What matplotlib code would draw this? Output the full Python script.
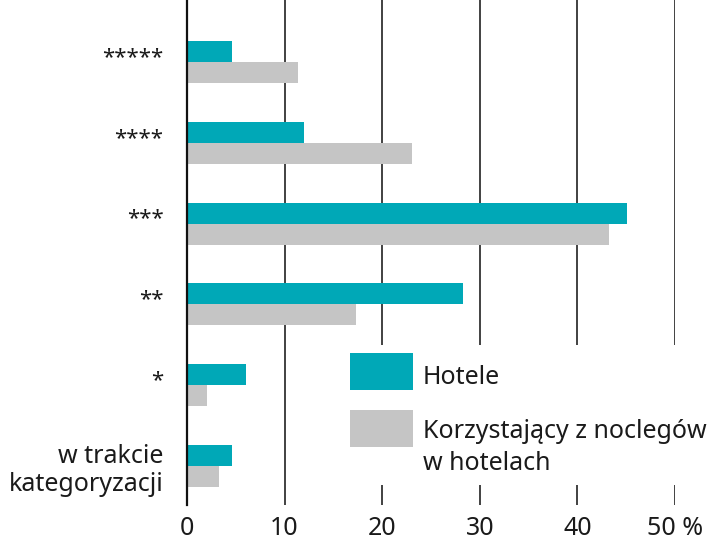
import matplotlib.pyplot as plt
import matplotlib.transforms as mtrans
import numpy as np
from matplotlib.patches import Rectangle

plt.rcParams['font.family'] = ['Noto Sans', 'DejaVu Sans']

categories = ["*****", "****", "***", "**", "*", "w trakcie\nkategoryzacji"]
hotele = [4.6, 12.0, 45.1, 28.3, 6.0, 4.6]
korzystajacy = [11.4, 23.1, 43.2, 17.3, 2.0, 3.3]
xticks = [0, 10, 20, 30, 40, 50]
xtick_labels = ["0", "10", "20", "30", "40", "50 %"]

TEAL = "#00a8b7"
GRAY = "#c5c5c5"
TXT = "#1a1a1a"
W, H = 720, 542
FS = 18

fig = plt.figure(figsize=(7.2, 5.42), dpi=100)
# axes: x 0..50 -> px 187..675, y top px 0, bottom px 505
ax = fig.add_axes([187 / W, 1 - 505 / H, (675 - 187) / W, 505 / H])

y = np.arange(len(categories))
bh = 0.26
ax.barh(y - bh / 2, hotele, height=bh, color=TEAL, zorder=3)
ax.barh(y + bh / 2, korzystajacy, height=bh, color=GRAY, zorder=3)

ax.set_xlim(0, 50)
ax.set_ylim(5 + 0.483, -0.767)
ax.set_xticks(xticks)
ax.set_xticklabels(xtick_labels, fontsize=FS, color=TXT)
ax.set_yticks(y)
ax.set_yticklabels(categories, fontsize=FS, color=TXT, linespacing=1.15)
ax.tick_params(axis="x", length=0, pad=8)
ax.tick_params(axis="y", length=0, pad=17)

# asterisks sit a little higher in the original
up = mtrans.ScaledTranslation(0, 7 / 100, fig.dpi_scale_trans)
for lab in ax.get_yticklabels()[:5]:
    lab.set_fontsize(16)
    lab.set_transform(lab.get_transform() + up)

ax.xaxis.grid(True, color="#333333", linewidth=1.3, zorder=1)
for s in ["top", "right", "bottom"]:
    ax.spines[s].set_visible(False)
ax.spines["left"].set_color("#111111")
ax.spines["left"].set_linewidth(1.6)
ax.spines["left"].set_zorder(4)

# legend drawn by hand on a white box
def fr(px, py, pw, ph, **kw):
    return Rectangle((px / W, 1 - (py + ph) / H), pw / W, ph / H,
                     transform=fig.transFigure, **kw)

fig.patches.append(fr(343, 345, 377, 140, facecolor="white", edgecolor="none", zorder=5))
fig.patches.append(fr(350, 353, 63, 37, facecolor=TEAL, edgecolor="none", zorder=6))
fig.patches.append(fr(350, 410, 63, 37, facecolor=GRAY, edgecolor="none", zorder=6))
fig.text(423 / W, 1 - 377 / H, "Hotele", fontsize=FS, va="center", color=TXT, zorder=7)
fig.text(423 / W, 1 - 432 / H, "Korzystający z noclegów", fontsize=FS, va="center", color=TXT, zorder=7)
fig.text(423 / W, 1 - 463 / H, "w hotelach", fontsize=FS, va="center", color=TXT, zorder=7)

fig.savefig("out.png", dpi=100)
